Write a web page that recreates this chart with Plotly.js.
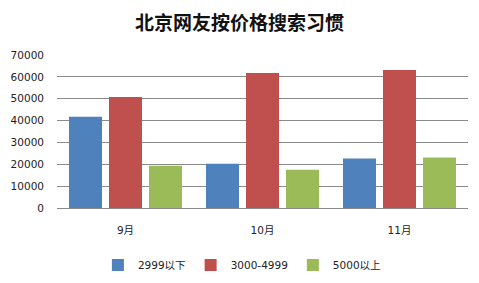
<!DOCTYPE html>
<html>
<head>
<meta charset="utf-8">
<script src="https://cdn.plot.ly/plotly-3.0.1.min.js"></script>
<style>
html,body{margin:0;padding:0;background:#fff;}
#chart{width:479px;height:283px;}
</style>
</head>
<body>
<div id="chart"></div>
<script>
const categories = ["9月", "10月", "11月"];
const seriesNames = ["2999以下", "3000-4999", "5000以上"];
const low = [41700, 20200, 22600];
const mid = [50800, 61800, 63100];
const high = [19300, 17500, 23100];
const yTicks = [0, 10000, 20000, 30000, 40000, 50000, 60000, 70000];
const colors = ["#4F81BD", "#C0504D", "#9BBB59"];

const font = "'DejaVu Sans', 'Noto Sans CJK SC', sans-serif";
const data = [low, mid, high].map((vals, i) => ({
  type: "bar",
  x: categories,
  y: vals,
  name: seriesNames[i],
  marker: {color: colors[i]},
  hoverinfo: "none"
}));

const layout = {
  width: 479, height: 283,
  margin: {l: 57, r: 11, t: 55, b: 75},
  paper_bgcolor: "#fff", plot_bgcolor: "#fff",
  barmode: "group",
  bargap: 0.124,
  bargroupgap: 0.175,
  title: {text: "北京网友按价格搜索习惯", font: {family: "'Noto Sans CJK SC', sans-serif", size: 19, color: "#111", weight: "bold"},
          x: 0.5, xref: "container", xanchor: "center", y: 1 - 23/283, yref: "container", yanchor: "middle"},
  xaxis: {
    type: "category",
    tickfont: {family: font, size: 10.5, color: "#222"},
    showgrid: false, showline: false, zeroline: false,
    ticks: "", ticklabelstandoff: 14
  },
  yaxis: {
    range: [0, 70000],
    tickvals: yTicks,
    ticktext: yTicks.map(String),
    tickfont: {family: font, size: 10.5, color: "#222"},
    showgrid: true, gridcolor: "#8a8a8a", gridwidth: 1,
    zeroline: true, zerolinecolor: "#8a8a8a", zerolinewidth: 1,
    showline: false, ticks: "", ticklabelstandoff: 12
  },
  showlegend: true,
  legend: {
    orientation: "h", xref: "container", yref: "container",
    x: 0.505, xanchor: "center", y: 1 - 265/283, yanchor: "middle",
    font: {family: font, size: 10.5, color: "#222"},
    itemwidth: 30, traceorder: "normal"
  }
};

Plotly.newPlot("chart", data, layout, {displayModeBar: false, staticPlot: true});
</script>
</body>
</html>
